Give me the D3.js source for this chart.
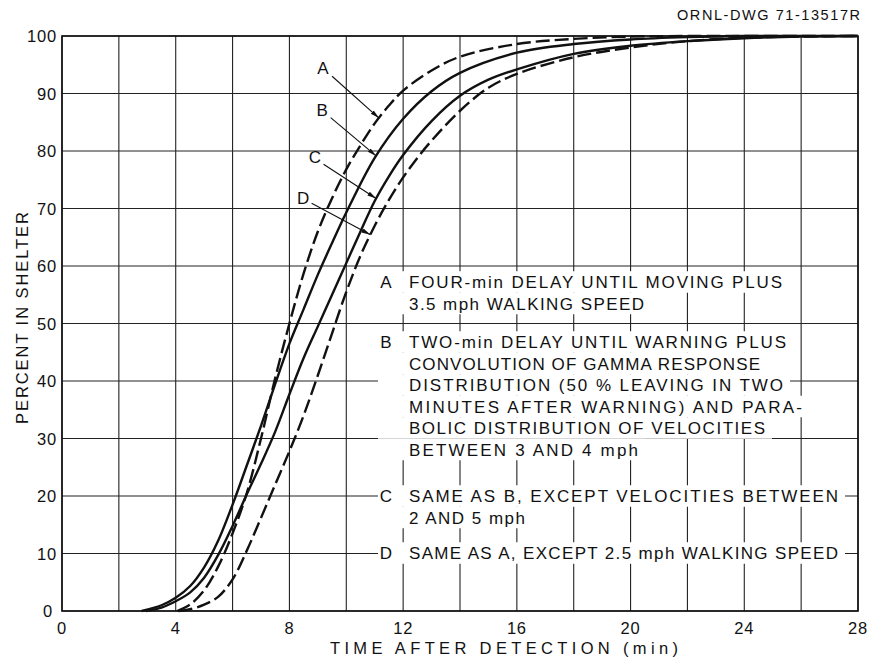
<!DOCTYPE html>
<html><head><meta charset="utf-8">
<script src="https://cdn.jsdelivr.net/npm/d3@7"></script>
<style>
body{margin:0;background:#fff}
svg{display:block}
text{font-family:"Liberation Sans",Arial,sans-serif;fill:#111}
</style>
</head><body>
<svg id="chart" width="873" height="658"></svg>
<script>
// ---------- data (time in min, percent in shelter) ----------
const seriesA = [[4.05,0],[4.5,1.1],[5.0,3.6],[5.5,7.8],[6.0,13.5],[6.5,20.5],[7.0,30],[7.5,40.5],[8.0,50],[8.5,58.7],[9.0,66],[9.5,71.8],[10,76.8],[10.5,81],[11,84.8],[11.5,87.9],[12,90.5],[13,94],[14,96.4],[16,98.6],[18,99.5],[20,99.9],[22,100],[28,100]];
const seriesB = [[2.8,0],[3.5,1],[4.0,2.3],[4.5,4.3],[5.0,7.6],[5.5,12.3],[6.0,18.5],[6.5,25.3],[7.0,32.2],[7.5,39.5],[8.0,46.5],[8.5,52.5],[9.0,58.5],[9.5,64],[10,69.3],[11,78.8],[12,85.6],[13,90.4],[14,93.6],[16,97.1],[18,98.6],[20,99.4],[22,99.8],[24,100],[28,100]];
const seriesC = [[2.95,0],[3.5,0.6],[4.0,1.7],[4.5,3.2],[5.0,5.8],[5.5,9.8],[6.0,14.8],[6.5,20.3],[7.0,25.6],[7.5,31.2],[8.0,37.7],[8.5,44],[9.0,49.5],[9.5,55],[10,60.5],[10.5,66],[11,71.3],[11.5,75.6],[12,79.3],[13,85.2],[14,89.6],[15,92.4],[16,94.2],[18,96.9],[20,98.3],[22,99.1],[24,99.6],[26,99.9],[28,100]];
const seriesD = [[4.1,0],[4.5,0.3],[5.0,1.1],[5.5,2.5],[6.0,5.5],[6.5,10.5],[7.0,16.2],[7.5,22],[8.0,27.8],[8.5,34],[9.0,41],[9.5,48.3],[10,55.5],[10.5,61.8],[11,67],[11.5,71.5],[12,75.4],[12.5,78.8],[13,81.8],[14,87],[15,91],[16,93.4],[18,96.3],[20,98],[22,99.1],[24,99.7],[26,99.9],[28,100]];
const seriesKeys = ["A","B","C","D"];
const xGridValues = d3.range(0, 29, 2);
const xTickLabels = [0,4,8,12,16,20,24,28];
const yTickLabels = [0,10,20,30,40,50,60,70,80,90,100];
const legendText = [
  ["FOUR-min DELAY UNTIL MOVING PLUS","3.5 mph WALKING SPEED"],
  ["TWO-min DELAY UNTIL WARNING PLUS","CONVOLUTION OF GAMMA RESPONSE","DISTRIBUTION (50 % LEAVING IN TWO","MINUTES AFTER WARNING) AND PARA-","BOLIC DISTRIBUTION OF VELOCITIES","BETWEEN 3 AND 4 mph"],
  ["SAME AS B, EXCEPT VELOCITIES BETWEEN","2 AND 5 mph"],
  ["SAME AS A, EXCEPT 2.5 mph WALKING SPEED"]
];
const xTitle = "TIME AFTER DETECTION (min)";
const yTitle = "PERCENT IN SHELTER";
const drawingId = "ORNL-DWG 71-13517R";

// ---------- layout ----------
const svg = d3.select("#chart");
const x = d3.scaleLinear().domain([0,28]).range([62,858]);
const y = d3.scaleLinear().domain([0,100]).range([611,36]);
const series = [seriesA, seriesB, seriesC, seriesD];
const dashes = [ "14,5", null, null, "14,5" ];

// grid
const g = svg.append("g");
g.selectAll(".vg").data(xGridValues).join("line")
  .attr("x1", d=>x(d)).attr("x2", d=>x(d)).attr("y1", y(0)).attr("y2", y(100))
  .attr("stroke", "#222").attr("stroke-width", 1.1);
g.selectAll(".hg").data(yTickLabels).join("line")
  .attr("x1", x(0)).attr("x2", x(28)).attr("y1", d=>y(d)).attr("y2", d=>y(d))
  .attr("stroke", "#222").attr("stroke-width", 1.1);
// frame
svg.append("rect").attr("x", x(0)).attr("y", y(100)).attr("width", x(28)-x(0)).attr("height", y(0)-y(100))
  .attr("fill","none").attr("stroke","#111").attr("stroke-width",1.6);

// legend (white knock-out behind each line)
const legendBlockTop = [282, 342, 496, 553];
const legendStep = 21.5;
const legendWidths = [[373,235],[377,351,374,393,356,229],[429,116],[429]];
const legendX = 409, keyX = 386;
const lg = svg.append("g");
legendText.forEach((lines, bi) => {
  lines.forEach((t, li) => {
    const cy = legendBlockTop[bi] + li*legendStep;
    const w = legendWidths[bi][li];
    lg.append("rect").attr("x", 378).attr("y", cy - legendStep/2)
      .attr("width", legendX + w + 7 - 378).attr("height", legendStep).attr("fill","#fff");
  });
});
legendText.forEach((lines, bi) => {
  lines.forEach((t, li) => {
    const cy = legendBlockTop[bi] + li*legendStep;
    if (li === 0) lg.append("text").attr("x", keyX).attr("y", cy + 6.2)
      .attr("text-anchor","middle").attr("font-size",17).text(seriesKeys[bi]);
    lg.append("text").attr("x", legendX).attr("y", cy + 6.2).attr("font-size",17)
      .attr("textLength", legendWidths[bi][li]).attr("lengthAdjust","spacing").text(t);
  });
});

// curves
const line = d3.line().x(d=>x(d[0])).y(d=>y(d[1])).curve(d3.curveCatmullRom.alpha(0.5));
svg.append("g").selectAll("path").data(series).join("path")
  .attr("d", line).attr("fill","none").attr("stroke","#111").attr("stroke-width",2.4)
  .attr("stroke-dasharray", (d,i)=>dashes[i]);

// annotation leaders with arrow heads
svg.append("defs").append("marker").attr("id","arr")
  .attr("markerUnits","userSpaceOnUse").attr("markerWidth",9).attr("markerHeight",6)
  .attr("refX",9).attr("refY",3).attr("orient","auto")
  .append("path").attr("d","M0,0.8 L9,3 L0,5.2 z").attr("fill","#111");
function valueAt(s, t){
  for (let i=1;i<s.length;i++){ if (t<=s[i][0]){ const a=s[i-1], b=s[i]; return a[1]+(b[1]-a[1])*(t-a[0])/(b[0]-a[0]); } }
  return s[s.length-1][1];
}
const annot = [
  {lt:9.18, lp:94.4, st:9.5,  sp:93.0, tt:11.15},
  {lt:9.15, lp:87.1, st:9.45, sp:85.8, tt:11.05},
  {lt:8.9,  lp:79.0, st:9.2,  sp:77.7, tt:11.05},
  {lt:8.48, lp:71.8, st:8.78, sp:70.9, tt:10.85}
];
const ag = svg.append("g");
annot.forEach((a,i)=>{
  ag.append("text").attr("x", x(a.lt)).attr("y", y(a.lp)+6.2).attr("text-anchor","middle")
    .attr("font-size",17).text(seriesKeys[i]);
  ag.append("line").attr("x1", x(a.st)).attr("y1", y(a.sp))
    .attr("x2", x(a.tt)).attr("y2", y(valueAt(series[i], a.tt)))
    .attr("stroke","#111").attr("stroke-width",1.1).attr("marker-end","url(#arr)");
});

// tick labels
svg.append("g").selectAll("text").data(xTickLabels).join("text")
  .attr("x", d=>x(d)).attr("y", 634).attr("text-anchor","middle").attr("font-size",16.5)
  .attr("letter-spacing",0.8).text(d=>d);
svg.append("g").selectAll("text").data(yTickLabels).join("text")
  .attr("x", d=> d===0 ? 53 : 57).attr("y", d=>y(d)+6).attr("text-anchor","end").attr("font-size",16.5)
  .attr("letter-spacing",0.8).text(d=>d);

// titles
svg.append("text").attr("x", 330).attr("y", 654).attr("font-size",16.5)
  .attr("textLength",348).attr("lengthAdjust","spacing").text(xTitle);
svg.append("text").attr("transform","translate(28,318) rotate(-90)").attr("text-anchor","middle")
  .attr("font-size",16.5).attr("textLength",212).attr("lengthAdjust","spacing").text(yTitle);
svg.append("text").attr("x", 677).attr("y", 20).attr("font-size",14.5)
  .attr("textLength",183).attr("lengthAdjust","spacing").text(drawingId);
</script>
</body></html>
